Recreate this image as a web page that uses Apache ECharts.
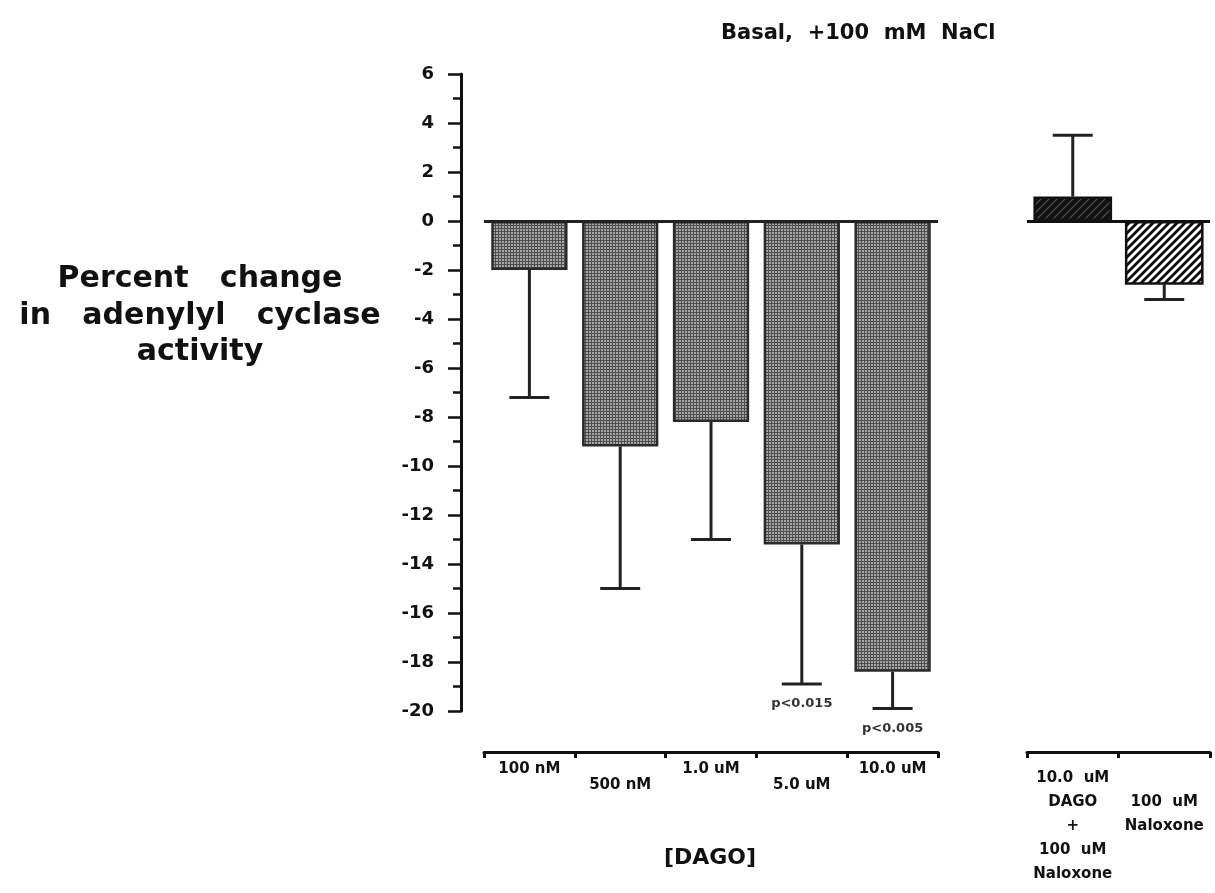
<!DOCTYPE html>
<html>
<head>
<meta charset="utf-8">
<script src="https://cdn.jsdelivr.net/npm/echarts@6/dist/echarts.min.js"></script>
<style>html,body{margin:0;padding:0;background:#fff}#c{width:1215px;height:893px}</style>
</head>
<body>
<div id="c"></div>
<script>
// ---- data ----
var categories = ['100 nM', '500 nM', '1.0 uM', '5.0 uM', '10.0 uM'];
var means = [-2.0, -9.2, -8.2, -13.2, -18.4];
var errEnds = [-7.2, -15.0, -13.0, -18.9, -19.9];
var pLabels = ['', '', '', 'p<0.015', 'p<0.005'];
var rightCategories = ['10.0  uM\nDAGO\n+\n100  uM\nNaloxone', '100  uM\nNaloxone'];
var rightMeans = [1.0, -2.6];
var rightErrEnds = [3.5, -3.2];
var yMin = -20, yMax = 6, yStep = 2;
var titleText = 'Basal,  +100  mM  NaCl';
var yTitle = 'Percent   change\nin   adenylyl   cyclase\nactivity';
var xTitle = '[DAGO]';

// ---- patterns ----
function makeChecker() {
  var c = document.createElement('canvas'); c.width = 3; c.height = 3;
  var g = c.getContext('2d');
  g.fillStyle = '#4e4e4e'; g.fillRect(0, 0, 3, 3);
  g.fillStyle = '#a6a6a6'; g.fillRect(1, 1, 2, 2);
  return c;
}
function makeHatch(bg, fg, w) {
  var s = 8;
  var c = document.createElement('canvas'); c.width = s; c.height = s;
  var g = c.getContext('2d');
  g.fillStyle = bg; g.fillRect(0, 0, s, s);
  g.strokeStyle = fg; g.lineWidth = w;
  g.beginPath();
  g.moveTo(-2, s + 2); g.lineTo(s + 2, -2);
  g.moveTo(-2, 2); g.lineTo(2, -2);
  g.moveTo(s - 2, s + 2); g.lineTo(s + 2, s - 2);
  g.stroke();
  return c;
}
var checker = makeChecker();
var hatchDark = makeHatch('#111', '#555', 1.2);
var hatchLight = makeHatch('#fff', '#111', 2.8);

var FONT = '"DejaVu Sans", Arial, sans-serif';
var INK = '#111';

function errData(vals, ends, labels) {
  return vals.map(function (v, i) { return [i, v, ends[i], labels ? labels[i] : '']; });
}
function renderErr(params, api) {
  var i = api.value(0);
  var p0 = api.coord([i, api.value(1)]);
  var p1 = api.coord([i, api.value(2)]);
  var half = 20;
  var children = [
    { type: 'line', shape: { x1: p0[0], y1: p0[1], x2: p1[0], y2: p1[1] }, style: { stroke: '#222', lineWidth: 3 } },
    { type: 'line', shape: { x1: p1[0] - half, y1: p1[1], x2: p1[0] + half, y2: p1[1] }, style: { stroke: '#222', lineWidth: 3 } }
  ];
  var lab = api.value(3);
  if (lab) {
    children.push({ type: 'text', x: p1[0], y: p1[1] + 20, style: { text: lab, font: 'bold 13px ' + FONT, fill: '#333', align: 'center', verticalAlign: 'middle' } });
  }
  return { type: 'group', children: children };
}

var chart = echarts.init(document.getElementById('c'), null, { renderer: 'canvas' });
var option = {
  animation: false,
  backgroundColor: '#fff',
  title: {
    text: titleText, left: 716, top: 18,
    textStyle: { fontFamily: FONT, fontWeight: 'bold', fontSize: 21, color: INK }
  },
  graphic: [
    { type: 'text', x: 200, y: 316, style: { text: yTitle, font: 'bold 30px ' + FONT, fill: INK, align: 'center', verticalAlign: 'middle', lineHeight: 36.5 } },
    { type: 'text', x: 710, y: 858, style: { text: xTitle, font: 'bold 22px ' + FONT, fill: INK, align: 'center', verticalAlign: 'middle' } }
  ],
  grid: [
    { left: 484, right: 277, top: 74, bottom: 182 },
    { left: 1027, right: 5, top: 74, bottom: 182 }
  ],
  xAxis: [
    {
      gridIndex: 0, type: 'category', data: categories, position: 'bottom', offset: 41,
      axisLine: { onZero: false, lineStyle: { color: INK, width: 3 } },
      axisTick: { show: true, inside: false, length: 6, lineStyle: { color: INK, width: 3 } },
      axisLabel: {
        margin: 9, fontFamily: FONT, fontWeight: 'bold', fontSize: 15, color: INK, lineHeight: 16,
        formatter: function (v, i) { return i % 2 ? '\n' + v : v; }
      }
    },
    {
      gridIndex: 1, type: 'category', data: rightCategories, position: 'bottom', offset: 41,
      axisLine: { onZero: false, lineStyle: { color: INK, width: 3 } },
      axisTick: { show: true, inside: false, length: 6, lineStyle: { color: INK, width: 3 } },
      axisLabel: {
        margin: 14, fontFamily: FONT, fontWeight: 'bold', fontSize: 15, color: INK, lineHeight: 24, interval: 0,
        formatter: function (v, i) { return i === 1 ? '\n' + v : v; }
      }
    }
  ],
  yAxis: [
    {
      gridIndex: 0, type: 'value', min: yMin, max: yMax, interval: yStep, offset: 23,
      axisLine: { show: true, lineStyle: { color: INK, width: 3 } },
      axisTick: { show: true, length: 13, lineStyle: { color: INK, width: 2.5 } },
      minorTick: { show: true, splitNumber: 2, length: 8, lineStyle: { color: INK, width: 2.5 } },
      splitLine: { show: false },
      axisLabel: { margin: 27, fontFamily: FONT, fontWeight: 'bold', fontSize: 18, color: INK }
    },
    {
      gridIndex: 1, type: 'value', min: yMin, max: yMax, interval: yStep,
      axisLine: { show: false }, axisTick: { show: false }, axisLabel: { show: false }, splitLine: { show: false }
    }
  ],
  series: [
    {
      type: 'bar', xAxisIndex: 0, yAxisIndex: 0, data: means, barCategoryGap: '16%',
      itemStyle: { color: { image: checker, repeat: 'repeat' }, borderColor: '#2a2a2a', borderWidth: 2.5 },
      markLine: { silent: true, symbol: 'none', label: { show: false }, lineStyle: { color: '#222', width: 3, type: 'solid' }, data: [{ yAxis: 0 }] }
    },
    {
      type: 'custom', xAxisIndex: 0, yAxisIndex: 0, data: errData(means, errEnds, pLabels), renderItem: renderErr, z: 1
    },
    {
      type: 'bar', xAxisIndex: 1, yAxisIndex: 1, data: [
        { value: rightMeans[0], itemStyle: { color: { image: hatchDark, repeat: 'repeat' } } },
        { value: rightMeans[1], itemStyle: { color: { image: hatchLight, repeat: 'repeat' } } }
      ], barCategoryGap: '14%',
      itemStyle: { borderColor: '#111', borderWidth: 2.5 },
      markLine: { silent: true, symbol: 'none', label: { show: false }, lineStyle: { color: '#111', width: 3, type: 'solid' }, data: [{ yAxis: 0 }] }
    },
    {
      type: 'custom', xAxisIndex: 1, yAxisIndex: 1, data: errData(rightMeans, rightErrEnds, null), renderItem: renderErr, z: 1
    }
  ]
};
chart.setOption(option);
</script>
</body>
</html>
